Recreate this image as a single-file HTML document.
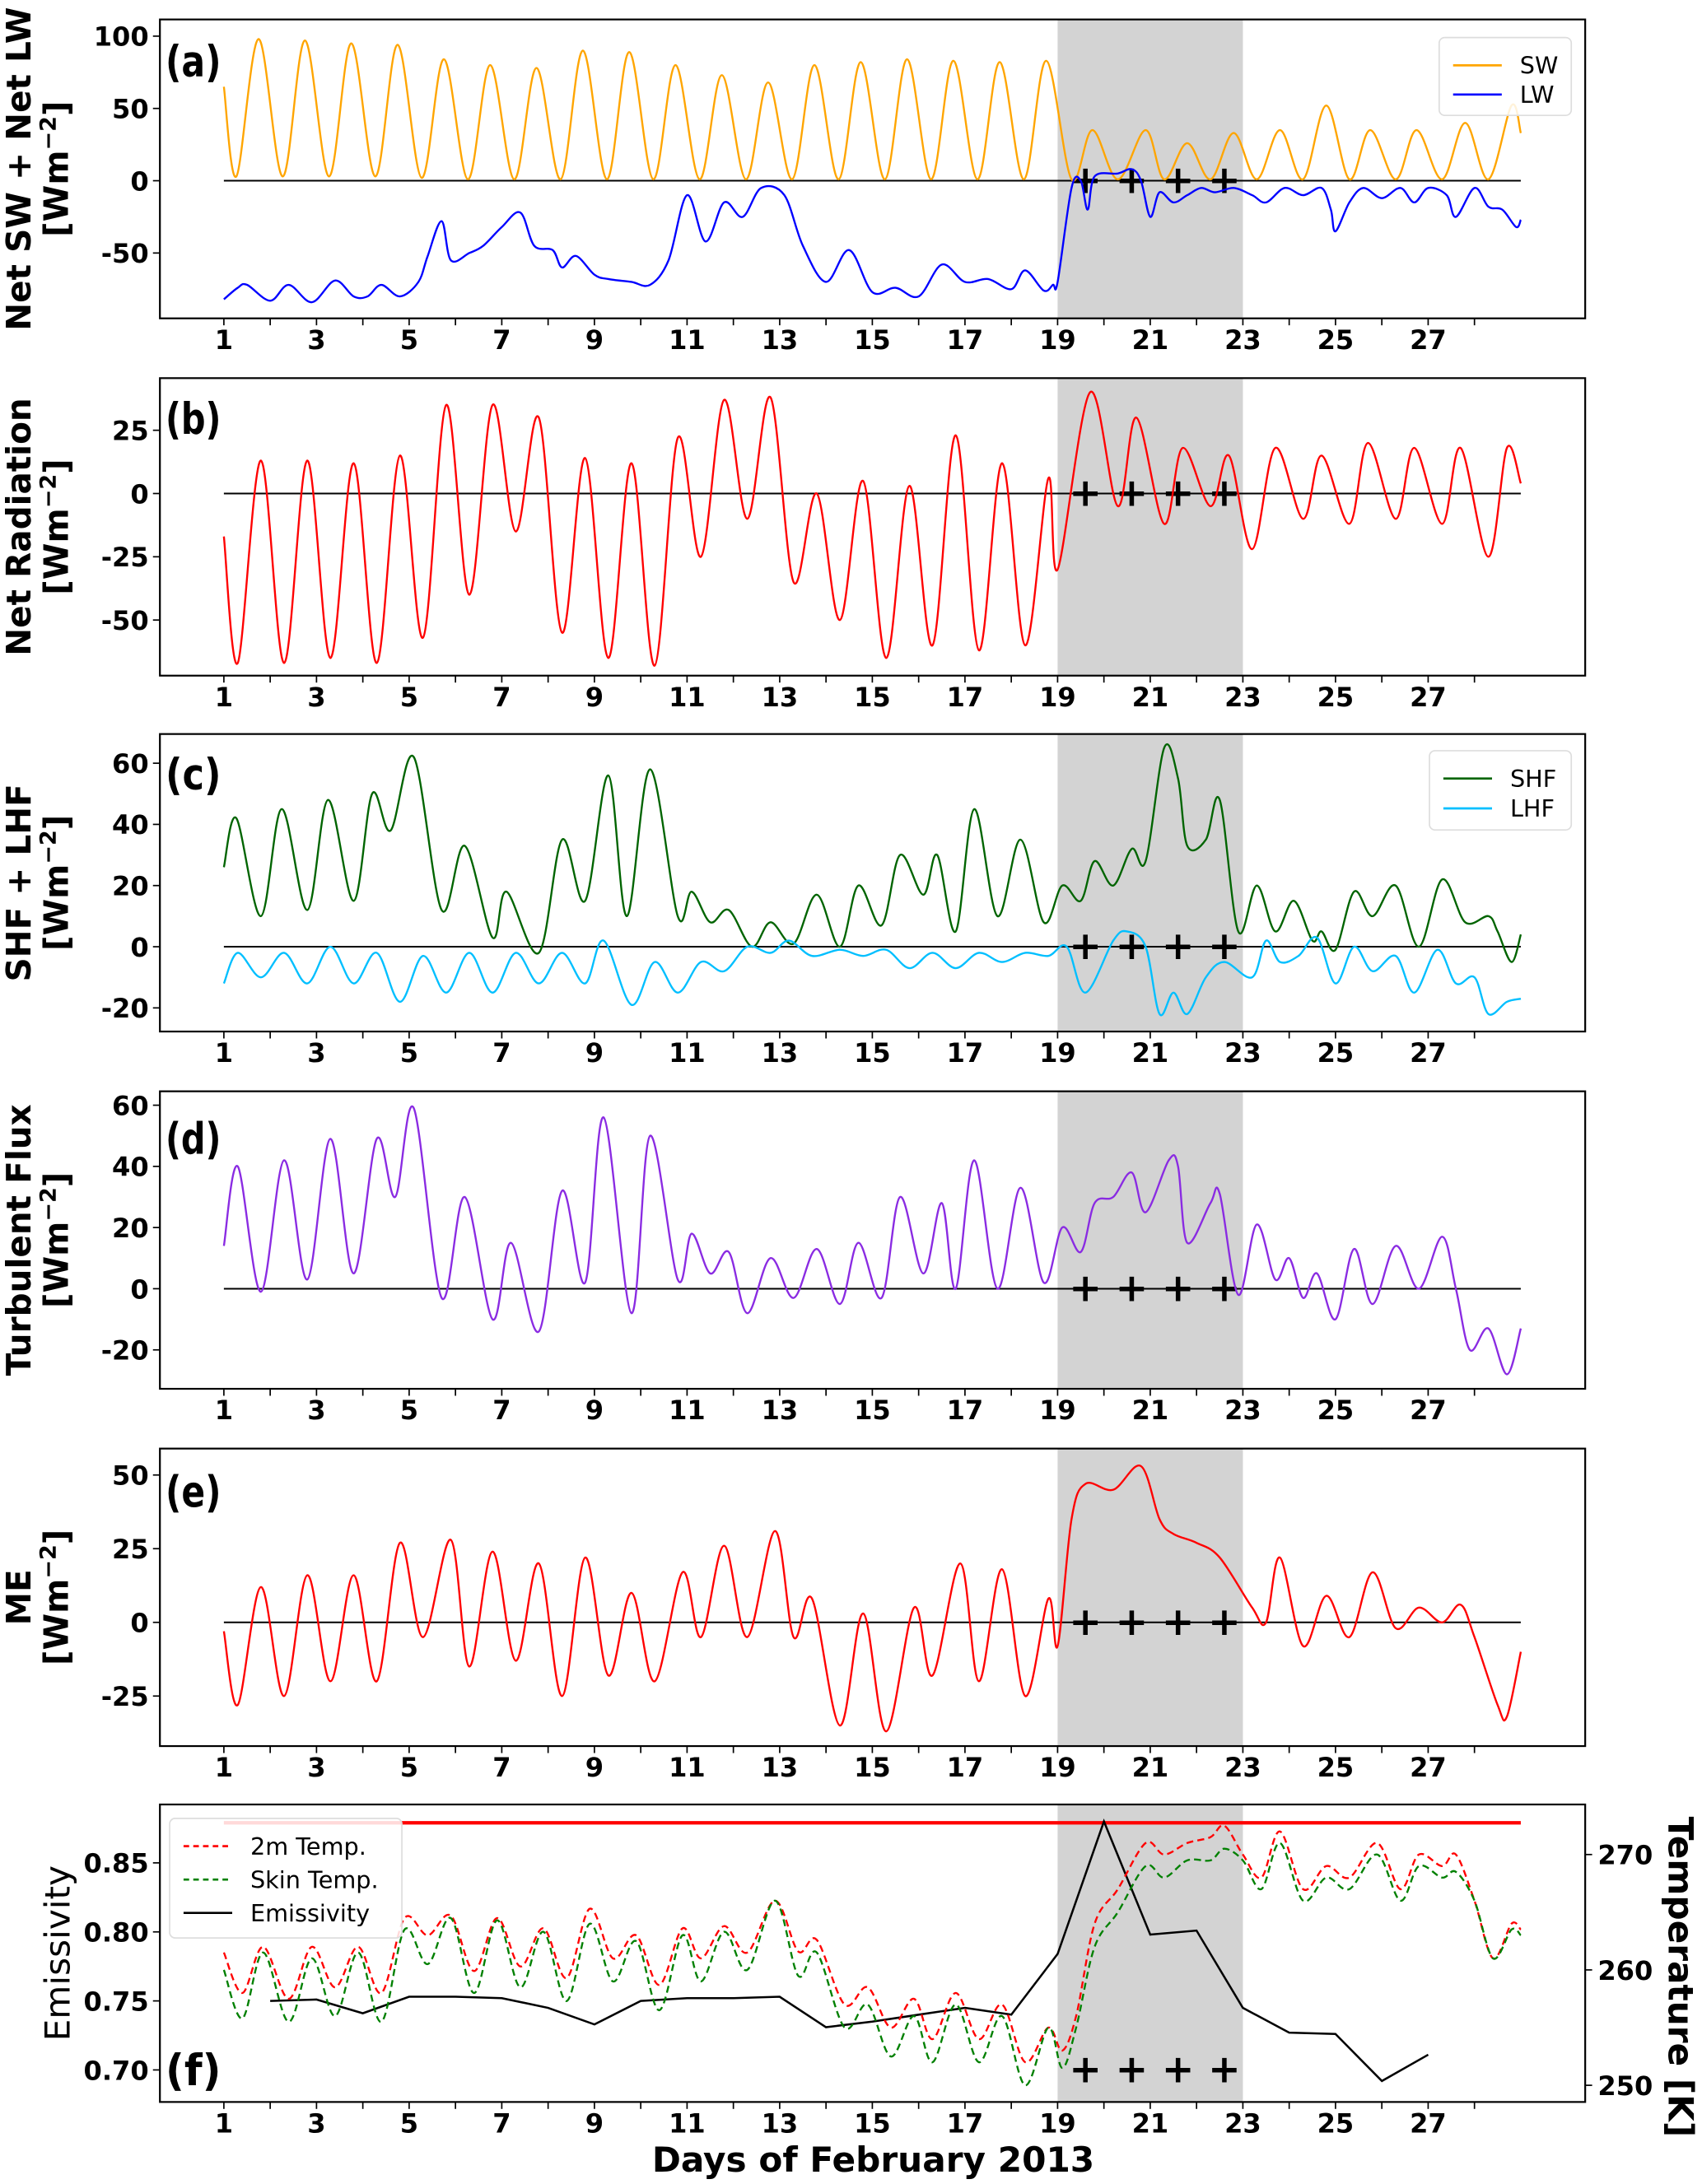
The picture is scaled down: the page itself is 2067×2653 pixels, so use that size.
<!DOCTYPE html>
<html><head><meta charset="utf-8"><style>
html,body{margin:0;padding:0;background:#fff;}
svg{display:block;}
text{font-family:"DejaVu Sans","Liberation Sans",sans-serif;}
</style></head><body>
<svg id="fig" xmlns="http://www.w3.org/2000/svg" width="2067" height="2653" viewBox="0 0 1224 1571" preserveAspectRatio="none"></svg>
<script>
// ---- data (day, value) ----
const swData=[[1,65],[1.27,3],[1.75,98],[2.27,3],[2.75,97],[3.27,3],[3.75,95],[4.27,3],[4.75,94],[5.27,2],[5.75,84],[6.27,1],[6.75,80],[7.27,1],[7.75,78],[8.27,1],[8.75,90],[9.27,1],[9.75,89],[10.27,1],[10.75,80],[11.27,1],[11.75,73],[12.27,1],[12.75,68],[13.27,1],[13.75,80],[14.27,1],[14.75,82],[15.27,1],[15.75,84],[16.27,1],[16.75,83],[17.27,1],[17.75,82],[18.27,1],[18.75,83],[19.3,1],[19.75,35],[20.3,1],[20.9,35],[21.3,1],[21.8,26],[22.3,1],[22.8,33],[23.3,1],[23.8,35],[24.3,1],[24.8,52],[25.3,1],[25.75,35],[26.3,1],[26.75,35],[27.3,1],[27.8,40],[28.3,1],[28.8,52],[29,33]];
const lwData=[[1,-82],[1.3,-74],[1.5,-72],[2,-83],[2.4,-72],[2.9,-84],[3.4,-69],[3.8,-80],[4.1,-80],[4.4,-72],[4.8,-80],[5.2,-70],[5.4,-52],[5.7,-28],[5.9,-55],[6.3,-50],[6.6,-45],[7,-32],[7.4,-22],[7.7,-45],[8.1,-48],[8.3,-60],[8.6,-52],[9,-65],[9.3,-68],[9.8,-70],[10.2,-72],[10.6,-55],[11,-10],[11.4,-42],[11.8,-15],[12.2,-25],[12.6,-5],[13.1,-10],[13.5,-45],[14,-70],[14.5,-48],[15,-77],[15.5,-74],[16,-80],[16.5,-58],[17,-70],[17.5,-68],[18,-75],[18.3,-62],[18.7,-76],[18.9,-72],[19,-70],[19.3,-5],[19.5,0],[19.65,-20],[19.8,3],[20.3,5],[20.6,8],[20.8,0],[21,-25],[21.2,-8],[21.5,-15],[21.8,-10],[22.1,-5],[22.4,-8],[22.8,-5],[23.2,-10],[23.5,-15],[23.9,-5],[24.3,-10],[24.7,-5],[24.9,-20],[25,-35],[25.3,-15],[25.6,-5],[26,-12],[26.4,-5],[26.7,-15],[27,-5],[27.4,-10],[27.6,-25],[28,-5],[28.3,-18],[28.6,-20],[28.9,-32],[29,-27]];
const netData=[[1,-17],[1.3,-67],[1.8,13],[2.3,-67],[2.8,13],[3.3,-65],[3.8,12],[4.3,-67],[4.8,15],[5.3,-57],[5.8,35],[6.3,-40],[6.8,35],[7.3,-15],[7.8,30],[8.3,-55],[8.8,14],[9.3,-65],[9.8,12],[10.3,-68],[10.8,22],[11.3,-25],[11.8,37],[12.3,-10],[12.8,38],[13.3,-35],[13.8,0],[14.3,-50],[14.8,5],[15.3,-65],[15.8,3],[16.3,-60],[16.8,23],[17.3,-62],[17.8,12],[18.3,-60],[18.8,6],[19,-30],[19.7,40],[20.3,-5],[20.7,30],[21.3,-12],[21.7,18],[22.3,-5],[22.7,15],[23.2,-22],[23.7,18],[24.3,-10],[24.7,15],[25.3,-12],[25.7,20],[26.3,-10],[26.7,18],[27.3,-12],[27.7,18],[28.3,-25],[28.7,18],[29,4]];
const shfData=[[1,26],[1.27,42],[1.8,10],[2.25,45],[2.8,12],[3.25,48],[3.8,15],[4.2,50],[4.6,38],[5.1,62],[5.7,12],[6.2,33],[6.8,3],[7.1,18],[7.8,-2],[8.3,35],[8.8,15],[9.3,56],[9.7,10],[10.2,58],[10.8,10],[11.1,18],[11.5,8],[11.9,12],[12.4,0],[12.8,8],[13.3,1],[13.8,17],[14.3,0],[14.7,20],[15.2,7],[15.6,30],[16.1,17],[16.4,30],[16.8,5],[17.2,45],[17.7,10],[18.2,35],[18.7,8],[19.1,20],[19.5,15],[19.8,28],[20.2,20],[20.6,32],[20.9,28],[21.3,65],[21.6,55],[21.8,33],[22.2,35],[22.5,48],[22.9,5],[23.3,20],[23.7,5],[24.1,15],[24.5,2],[24.7,5],[25,-1],[25.4,18],[25.8,10],[26.3,20],[26.8,0],[27.3,22],[27.8,8],[28.3,10],[28.5,5],[28.8,-5],[29,4]];
const lhfData=[[1,-12],[1.3,-2],[1.8,-10],[2.3,-2],[2.8,-12],[3.3,0],[3.8,-12],[4.3,-2],[4.8,-18],[5.3,-3],[5.8,-15],[6.3,-2],[6.8,-15],[7.3,-2],[7.8,-12],[8.3,-2],[8.8,-12],[9.2,2],[9.8,-19],[10.3,-5],[10.8,-15],[11.3,-5],[11.8,-8],[12.3,0],[12.8,-2],[13.2,2],[13.7,-3],[14.3,-1],[14.8,-3],[15.3,-1],[15.8,-7],[16.3,-2],[16.8,-7],[17.3,-2],[17.8,-5],[18.3,-2],[18.8,-3],[19.2,0],[19.6,-15],[20.2,2],[20.5,5],[20.9,0],[21.2,-22],[21.5,-15],[21.8,-22],[22.2,-10],[22.6,-5],[23.2,-10],[23.5,2],[23.8,-5],[24.2,-3],[24.6,3],[25,-12],[25.4,0],[25.8,-8],[26.3,-3],[26.7,-15],[27.2,-1],[27.6,-12],[28,-10],[28.3,-22],[28.7,-18],[29,-17]];
const turbData=[[1,14],[1.3,40],[1.8,-1],[2.3,42],[2.8,3],[3.3,49],[3.8,5],[4.3,49],[4.7,30],[5.1,59],[5.7,-3],[6.2,30],[6.8,-10],[7.2,15],[7.8,-14],[8.3,32],[8.8,2],[9.2,56],[9.8,-8],[10.2,50],[10.8,3],[11.1,18],[11.5,5],[11.9,12],[12.3,-8],[12.8,10],[13.3,-3],[13.8,13],[14.3,-5],[14.7,15],[15.2,-3],[15.6,30],[16.1,5],[16.5,28],[16.8,0],[17.2,42],[17.7,0],[18.2,33],[18.7,2],[19.1,20],[19.5,12],[19.8,28],[20.2,30],[20.6,38],[20.9,25],[21.4,42],[21.6,40],[21.8,15],[22.3,28],[22.5,31],[22.9,-2],[23.3,21],[23.7,3],[24,10],[24.3,-3],[24.6,5],[25,-10],[25.4,13],[25.8,-5],[26.3,14],[26.8,0],[27.3,17],[27.6,0],[27.9,-20],[28.3,-13],[28.7,-28],[29,-13]];
const meData=[[1,-3],[1.3,-28],[1.8,12],[2.3,-25],[2.8,16],[3.3,-20],[3.8,16],[4.3,-20],[4.8,27],[5.3,-5],[5.9,28],[6.3,-15],[6.8,24],[7.3,-13],[7.8,20],[8.3,-25],[8.8,22],[9.3,-18],[9.8,10],[10.3,-20],[10.9,17],[11.3,-5],[11.8,26],[12.3,-5],[12.9,31],[13.3,-5],[13.7,8],[14.3,-35],[14.8,3],[15.3,-37],[15.9,5],[16.3,-18],[16.9,20],[17.3,-20],[17.8,18],[18.3,-25],[18.8,8],[19,-8],[19.3,35],[19.6,47],[20.2,45],[20.8,53],[21.2,35],[21.5,30],[22,27],[22.5,22],[23.2,5],[23.5,0],[23.8,22],[24.3,-8],[24.8,9],[25.3,-5],[25.8,17],[26.3,-2],[26.8,5],[27.3,0],[27.7,6],[28,-5],[28.5,-28],[28.7,-32],[29,-10]];
const t2mData=[[1,261.5],[1.4,258],[1.85,262],[2.4,257.5],[2.9,262],[3.4,258.5],[3.9,262],[4.4,258],[4.9,264.5],[5.4,263],[5.9,264.7],[6.4,259.9],[6.9,264.5],[7.4,260.3],[7.9,263.6],[8.4,259.3],[8.9,265.3],[9.4,261],[9.9,263],[10.4,258.7],[10.9,263.6],[11.3,261],[11.8,263.8],[12.3,261.5],[12.9,266],[13.4,261.6],[13.8,262.6],[14.4,257],[14.9,258.5],[15.4,255],[15.9,257.5],[16.3,254],[16.8,258],[17.3,254],[17.8,257],[18.3,252],[18.8,255],[19.1,253],[19.4,256],[19.8,264],[20.3,267],[20.9,271],[21.3,270],[21.8,271],[22.3,271.5],[22.6,272.5],[23,270],[23.4,268],[23.8,272],[24.3,267],[24.8,269],[25.3,268],[25.9,271],[26.4,267],[26.8,270],[27.3,269],[27.6,270],[28,266],[28.4,261],[28.8,264],[29,263.5]];
const skinData=[[1,260],[1.4,255.8],[1.85,261.5],[2.4,255.5],[2.9,261],[3.4,256],[3.9,261.5],[4.4,255.5],[4.9,263.5],[5.4,260.5],[5.9,264.5],[6.4,258],[6.9,264.3],[7.4,258.5],[7.9,263.3],[8.4,257.3],[8.9,264],[9.4,259],[9.9,262.5],[10.4,256.5],[10.9,263],[11.3,259],[11.8,263.3],[12.3,260],[12.9,266],[13.4,259.5],[13.8,261.5],[14.4,255],[14.9,257],[15.4,252.5],[15.9,256],[16.3,252],[16.8,257],[17.3,252],[17.8,256],[18.3,250],[18.8,255],[19.1,251.5],[19.4,255],[19.8,262],[20.3,265],[20.9,269],[21.3,268],[21.8,269.5],[22.3,269.5],[22.6,270.5],[23,269.5],[23.4,267],[23.8,271],[24.3,266],[24.8,268],[25.3,267],[25.9,270],[26.4,266],[26.8,269],[27.3,268],[27.6,268.5],[28,266],[28.4,261],[28.8,263.5],[29,263]];
const emisData=[[2,0.750],[3,0.751],[4,0.741],[5,0.753],[6,0.753],[7,0.752],[8,0.745],[9,0.733],[10,0.750],[11,0.752],[12,0.752],[13,0.753],[14,0.731],[15,0.735],[16,0.740],[17,0.745],[18,0.740],[19,0.784],[20,0.880],[21,0.798],[22,0.801],[23,0.745],[24,0.727],[25,0.726],[26,0.692],[27,0.711]];
const emisRef=[0.879];
const dayTicks=[1,3,5,7,9,11,13,15,17,19,21,23,25,27];
const plusDays=[19.6,20.6,21.6,22.6];
const shadeDays=[19,23];

const NS="http://www.w3.org/2000/svg";
const svg=document.getElementById('fig');
function el(tag,attrs,parent){const e=document.createElementNS(NS,tag);for(const k in attrs)e.setAttribute(k,attrs[k]);(parent||svg).appendChild(e);return e;}
const X0=115,X1=1140;
function xs(d){return 161+(d-1)*33.31;}
function smoothPath(pts){
  let d='M'+pts[0][0].toFixed(1)+','+pts[0][1].toFixed(1);
  for(let i=0;i<pts.length-1;i++){
    const p0=pts[i-1]||pts[i],p1=pts[i],p2=pts[i+1],p3=pts[i+2]||p2;
    const c1=[p1[0]+(p2[0]-p0[0])/6,p1[1]+(p2[1]-p0[1])/6];
    const c2=[p2[0]-(p3[0]-p1[0])/6,p2[1]-(p3[1]-p1[1])/6];
    d+='C'+c1[0].toFixed(1)+','+c1[1].toFixed(1)+' '+c2[0].toFixed(1)+','+c2[1].toFixed(1)+' '+p2[0].toFixed(1)+','+p2[1].toFixed(1);
  }
  return d;
}
function line(data,ys,color,name,extra){
  const pts=data.map(p=>[xs(p[0]),ys(p[1])]);
  const p=el('path',Object.assign({d:smoothPath(pts),fill:'none',stroke:color,'stroke-width':1.4},extra||{}));
  
  
  return p;
}
function panel(cfg){
  const g=el('g',{});
  
  
  const sh=el('rect',{x:xs(shadeDays[0]),y:cfg.top,width:xs(shadeDays[1])-xs(shadeDays[0]),height:cfg.bot-cfg.top,fill:'#d3d3d3'},g);
  
  
  for(let d=1;d<=28;d++){el('line',{x1:xs(d),x2:xs(d),y1:cfg.bot,y2:cfg.bot+5,stroke:'#000','stroke-width':1},g);}
  dayTicks.forEach(d=>{const t=el('text',{x:xs(d),y:cfg.bot+22,'text-anchor':'middle','font-size':19,'font-weight':'bold'},g);t.textContent=d;
    
    });
  cfg.yt.forEach(v=>{const y=cfg.ys(v);el('line',{x1:X0-5,x2:X0,y1:y,y2:y,stroke:'#000','stroke-width':1},g);
    const t=el('text',{x:X0-8,y:y+7,'text-anchor':'end','font-size':19,'font-weight':'bold'},g);t.textContent=cfg.ytl?cfg.ytl(v):v;
    
    });
  if(cfg.zero!==false){el('line',{x1:xs(1),x2:xs(29),y1:cfg.ys(0),y2:cfg.ys(0),stroke:'#000','stroke-width':1.2},g);}
  cfg.draw(g);
  const py=cfg.plusY!==undefined?cfg.plusY:cfg.ys(0);
  plusDays.forEach(d=>{const t=el('text',{x:xs(d),y:py+9,'text-anchor':'middle','font-size':28,'font-weight':'bold'},g);t.textContent='+';
    
    });
  const fr=el('rect',{x:X0,y:cfg.top,width:X1-X0,height:cfg.bot-cfg.top,fill:'none',stroke:'#000','stroke-width':1.3},g);
  
  
  const lb=el('text',{x:119,y:cfg.labelY,'font-size':31,'font-weight':'bold','font-family':'DejaVu Sans Condensed, DejaVu Sans, sans-serif',textLength:40,lengthAdjust:'spacingAndGlyphs'},g);
  lb.textContent='('+cfg.id+')';
  
  
  if(cfg.title){const cy=(cfg.top+cfg.bot)/2;
    cfg.title.forEach((s,i)=>{const t=el('text',{transform:`translate(${22+i*27},${cy}) rotate(-90)`,'text-anchor':'middle','font-size':24,'font-weight':'bold'},g);
      t.innerHTML=s;
      
      });}
  return g;
}
const W='[Wm<tspan baseline-shift="super" font-size="16">−2</tspan>]';
function legend(x,y,w,h,items){
  const g=el('g',{});
  
  
  el('rect',{x:x,y:y,width:w,height:h,rx:4,fill:'#fff','fill-opacity':0.85,stroke:'#ddd','stroke-width':1},g);
  items.forEach((it,i)=>{const yy=y+14+i*(h-14)/items.length+6;
    el('line',Object.assign({x1:x+10,x2:x+45,y1:yy,y2:yy,stroke:it.c,'stroke-width':1.6},it.dash?{'stroke-dasharray':'4,3'}:{}),g);
    const t=el('text',{x:x+58,y:yy+6,'font-size':17},g);t.textContent=it.t;
    
    });
}
const ya=v=>130-v*1.04;
panel({id:'a',top:14,bot:229,ys:ya,yt:[100,50,0,-50],labelY:55,title:['Net SW + Net LW',W],draw:g=>{line(swData,ya,'#ffa500','sw-line');line(lwData,ya,'#0000ff','lw-line');}});
legend(1035,27,95,56,[{t:'SW',c:'#ffa500'},{t:'LW',c:'#0000ff'}]);
const yb=v=>355-v*1.82;
panel({id:'b',top:272,bot:486,ys:yb,yt:[25,0,-25,-50],labelY:312,title:['Net Radiation',W],draw:g=>{line(netData,yb,'#ff0000','net-radiation-line');}});
const yc=v=>681-v*2.2;
panel({id:'c',top:528,bot:742,ys:yc,yt:[60,40,20,0,-20],labelY:568,title:['SHF + LHF',W],draw:g=>{line(shfData,yc,'#006400','shf-line');line(lhfData,yc,'#00bfff','lhf-line');}});
legend(1028,540,102,57,[{t:'SHF',c:'#006400'},{t:'LHF',c:'#00bfff'}]);
const yd=v=>927-v*2.2;
panel({id:'d',top:785,bot:999,ys:yd,yt:[60,40,20,0,-20],labelY:830,title:['Turbulent Flux',W],draw:g=>{line(turbData,yd,'#8a2be2','turbulent-flux-line');}});
const ye=v=>1167-v*2.12;
panel({id:'e',top:1042,bot:1256,ys:ye,yt:[50,25,0,-25],labelY:1084,title:['ME',W],draw:g=>{line(meData,ye,'#ff0000','me-line');}});
const yf=v=>1340-(v-0.85)*993;
const yt=v=>1334-(v-270)*8.3;
panel({id:'f',top:1298,bot:1512,ys:yf,yt:[0.85,0.80,0.75,0.70],ytl:v=>v.toFixed(2),zero:false,plusY:1489,labelY:1500,title:null,draw:g=>{
  const r=el('line',{x1:xs(1),x2:xs(29),y1:yf(emisRef[0]),y2:yf(emisRef[0]),stroke:'#ff0000','stroke-width':2.5},g);
  
  
  line(t2mData,yt,'#ff0000','2m-temp-line',{'stroke-dasharray':'5,3'});
  line(skinData,yt,'#008000','skin-temp-line',{'stroke-dasharray':'5,3'});
  const p=el('polyline',{points:emisData.map(q=>xs(q[0]).toFixed(1)+','+yf(q[1]).toFixed(1)).join(' '),fill:'none',stroke:'#000','stroke-width':1.5},g);
  
  
  [270,260,250].forEach(v=>{el('line',{x1:X1,x2:X1+5,y1:yt(v),y2:yt(v),stroke:'#000'},g);
    const t=el('text',{x:X1+9,y:yt(v)+7,'font-size':19,'font-weight':'bold'},g);t.textContent=v;
    
    });
}});
legend(122,1308,167,86,[{t:'2m Temp.',c:'#ff0000',dash:1},{t:'Skin Temp.',c:'#008000',dash:1},{t:'Emissivity',c:'#000'}]);
let t=el('text',{transform:'translate(50,1405) rotate(-90)','text-anchor':'middle','font-size':25});t.textContent='Emissivity';


t=el('text',{transform:'translate(1200,1422) rotate(90)','text-anchor':'middle','font-size':25,'font-weight':'bold'});t.textContent='Temperature [K]';


t=el('text',{x:628,y:1562,'text-anchor':'middle','font-size':25,'font-weight':'bold'});t.textContent='Days of February 2013';


</script>
</body></html>
